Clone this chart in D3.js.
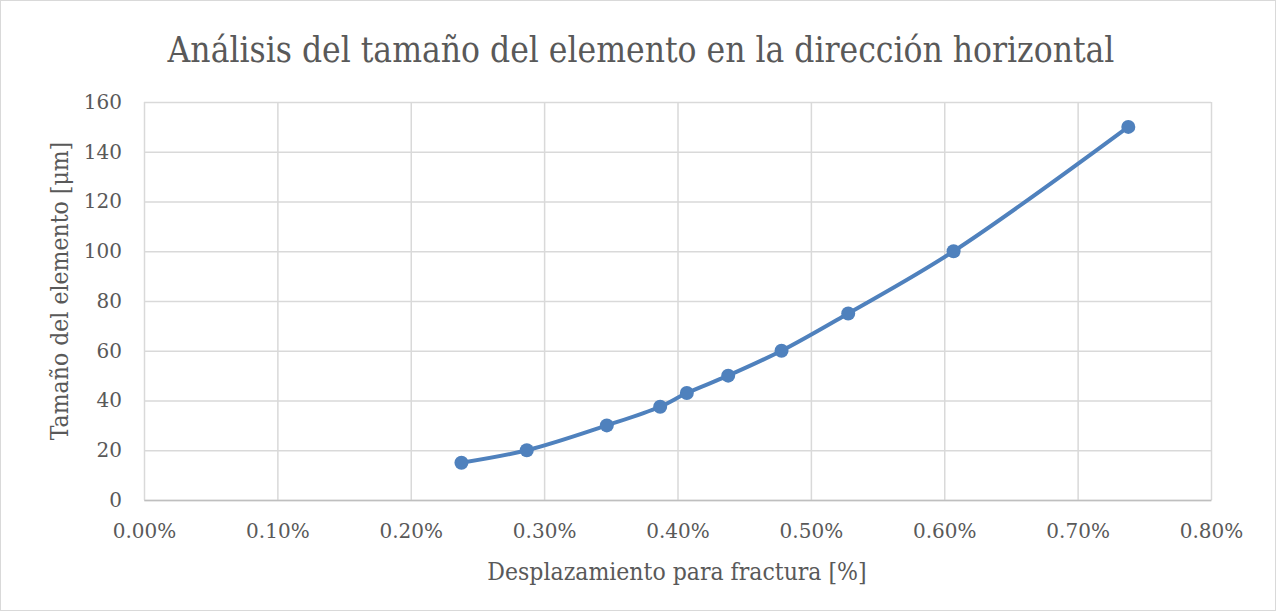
<!DOCTYPE html>
<html>
<head>
<meta charset="utf-8">
<script src="https://cdn.jsdelivr.net/npm/d3@7"></script>
<style>
  body { margin: 0; background: #fff; }
  svg text { font-family: "DejaVu Serif Condensed", "DejaVu Serif", serif; fill: #595959; }
  svg .axis text { font-family: "DejaVu Serif", serif; }
</style>
</head>
<body>
<div id="chart"></div>
<script>
const desplazamiento = [0.238, 0.287, 0.347, 0.387, 0.407, 0.438, 0.478, 0.528, 0.607, 0.738];
const tamano = [15, 20, 30, 37.5, 43, 50, 60, 75, 100, 150];
const xTicks = [0, 0.1, 0.2, 0.3, 0.4, 0.5, 0.6, 0.7, 0.8];
const yTicks = [0, 20, 40, 60, 80, 100, 120, 140, 160];

const width = 1276;
const height = 611;
const margin = { left: 144, right: 65, top: 102, bottom: 111 };
const chartWidth = width - margin.left - margin.right;
const chartHeight = height - margin.top - margin.bottom;

const svg = d3.select('#chart')
  .append('svg')
  .attr('width', width)
  .attr('height', height);

svg.append('rect')
  .attr('x', 0.5).attr('y', 0.5)
  .attr('width', width - 1).attr('height', height - 1)
  .attr('fill', '#fff')
  .attr('stroke', '#d9d9d9');

const x = d3.scaleLinear().domain([0, 0.8]).range([0, chartWidth]);
const y = d3.scaleLinear().domain([0, 160]).range([chartHeight, 0]);

const g = svg.append('g')
  .attr('transform', `translate(${margin.left},${margin.top})`);

// grid
g.append('g')
  .attr('class', 'x grid')
  .attr('transform', `translate(0,${chartHeight})`)
  .call(d3.axisBottom(x).tickValues(xTicks).tickSize(-chartHeight).tickFormat(''))
  .call(s => s.select('.domain').remove())
  .selectAll('line').attr('stroke', '#d9d9d9').attr('stroke-width', 1.5);

g.append('g')
  .attr('class', 'y grid')
  .call(d3.axisLeft(y).tickValues(yTicks).tickSize(-chartWidth).tickFormat(''))
  .call(s => s.select('.domain').remove())
  .selectAll('line').attr('stroke', '#d9d9d9').attr('stroke-width', 1.5);

// axes labels
const xAxis = g.append('g')
  .attr('class', 'x axis')
  .attr('transform', `translate(0,${chartHeight})`)
  .call(d3.axisBottom(x).tickValues(xTicks).tickSize(0).tickPadding(24).tickFormat(d => d.toFixed(2) + '%'));
xAxis.select('.domain').attr('stroke', '#bfbfbf').attr('stroke-width', 1.5);
xAxis.selectAll('text').style('font-size', '20px');

const yAxis = g.append('g')
  .attr('class', 'y axis')
  .call(d3.axisLeft(y).tickValues(yTicks).tickSize(0).tickPadding(22));
yAxis.select('.domain').remove();
yAxis.selectAll('text').style('font-size', '20px');

// line
const line = d3.line()
  .x((d, i) => x(desplazamiento[i]))
  .y(d => y(d))
  .curve(d3.curveCatmullRom.alpha(0.5));

g.append('path')
  .datum(tamano)
  .attr('fill', 'none')
  .attr('stroke', '#4f81bd')
  .attr('stroke-width', 4)
  .attr('d', line);

g.append('g')
  .selectAll('circle')
  .data(tamano)
  .enter()
  .append('circle')
  .attr('cx', (d, i) => x(desplazamiento[i]))
  .attr('cy', d => y(d))
  .attr('r', 7)
  .attr('fill', '#4f81bd');

// titles
svg.append('text')
  .attr('x', 641).attr('y', 62)
  .attr('text-anchor', 'middle')
  .style('font-size', '35px')
  .text('Análisis del tamaño del elemento en la dirección horizontal');

svg.append('text')
  .attr('x', 677).attr('y', 580)
  .attr('text-anchor', 'middle')
  .style('font-size', '24.5px')
  .text('Desplazamiento para fractura [%]');

svg.append('text')
  .attr('transform', `translate(68,${margin.top + chartHeight / 2 - 10}) rotate(-90)`)
  .attr('text-anchor', 'middle')
  .style('font-size', '24.5px')
  .text('Tamaño del elemento [μm]');
</script>
</body>
</html>
